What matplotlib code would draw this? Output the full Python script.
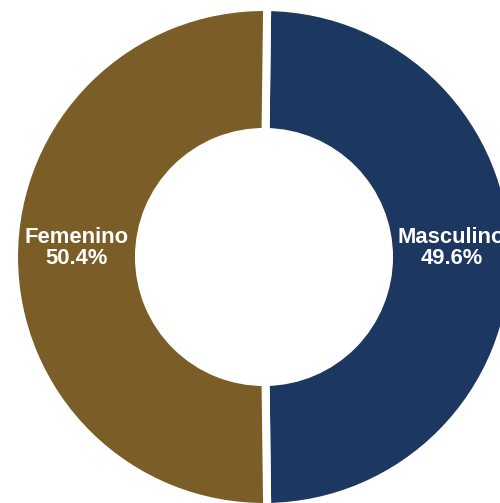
import matplotlib
matplotlib.use("Agg")
import matplotlib.pyplot as plt
import numpy as np

labels = ["Masculino", "Femenino"]
values = [49.6, 50.4]
colors = ["#1c3760", "#7b5e27"]

W, H = 500, 503
fig = plt.figure(figsize=(W / 100, H / 100), dpi=100)
ax = fig.add_axes([0, 0, 1, 1])

unit = 250.0          # px per data unit (pie radius 1)
cx, cy = 264.0, 257.0 # centre in px from top-left
ax.axis("off")

inner = 125.0 / unit
width = 1 - inner
mid = (1 + inner) / 2

start = 90 - values[0] / sum(values) * 360 / 2 + 90 - 90  # symmetric about horizontal
start = values[0] / sum(values) * 360 / 2
wedges, _ = ax.pie(values, colors=colors, startangle=start, counterclock=False,
                   radius=1,
                   wedgeprops=dict(width=width, edgecolor="white", linewidth=5.8))

for w, l, v in zip(wedges, labels, values):
    ang = np.deg2rad((w.theta1 + w.theta2) / 2)
    x = mid * np.cos(ang)
    y = mid * np.sin(ang) + 9 / unit
    ax.text(x, y, f"{l}\n{v:.1f}%", color="white", fontsize=15.8, fontweight="bold",
            family="Liberation Sans", ha="center", va="center", linespacing=1.0)

ax.set_xlim(-cx / unit, (W - cx) / unit)
ax.set_ylim(-(H - cy) / unit, cy / unit)
ax.set_aspect("auto")

fig.savefig("out.png", dpi=100)
